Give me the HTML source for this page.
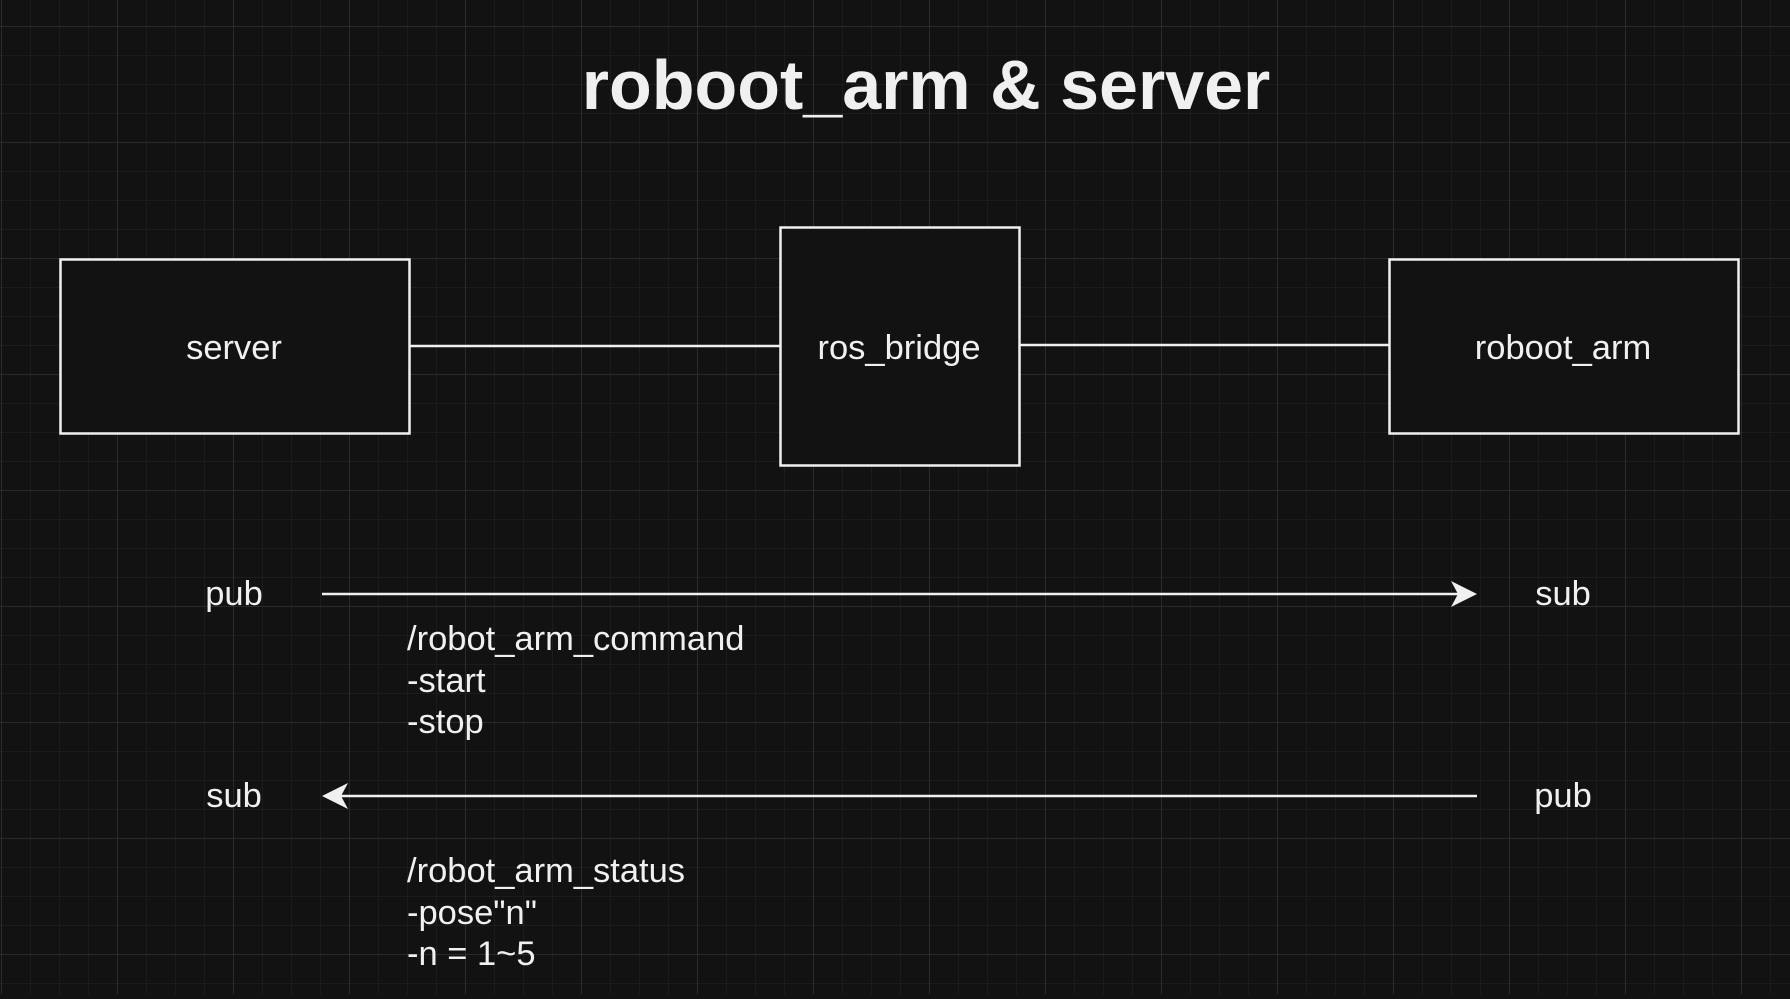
<!DOCTYPE html>
<html><head><style>
html,body{margin:0;padding:0;}
body{width:1790px;height:994px;overflow:hidden;background:#121212;font-family:"Liberation Sans",sans-serif;}
</style></head><body>
<svg width="1790" height="994" xmlns="http://www.w3.org/2000/svg">
<defs>
<pattern id="minor" x="1" y="26" width="29" height="29" patternUnits="userSpaceOnUse">
<path d="M0 0H29M0 0V29" stroke="#202020" stroke-width="1.5" fill="none"/>
</pattern>
<pattern id="major" x="1" y="26" width="116" height="116" patternUnits="userSpaceOnUse">
<path d="M0 0H116M0 0V116" stroke="#3a3a3a" stroke-width="1" fill="none"/>
</pattern>
</defs>
<rect width="1790" height="994" fill="#121212"/>
<rect width="1790" height="994" fill="url(#minor)"/>
<rect width="1790" height="994" fill="url(#major)"/>
<g fill="#f0f0f0" font-family="Liberation Sans, sans-serif">
<text x="926" y="109" font-size="70" font-weight="bold" text-anchor="middle">roboot_arm &amp; server</text>
</g>
<g stroke="#f0f0f0" stroke-width="2.5" fill="#121212">
<line x1="410" y1="346" x2="780" y2="346"/>
<line x1="1019" y1="345" x2="1389" y2="345"/>
<rect x="60.5" y="259.5" width="349" height="174"/>
<rect x="780.5" y="227.5" width="239" height="238"/>
<rect x="1389.5" y="259.5" width="349" height="174"/>
<line x1="322" y1="594" x2="1462" y2="594"/>
<line x1="337" y1="796" x2="1477" y2="796"/>
</g>
<g fill="#f0f0f0">
<path d="M1477 594 L1451 581 L1458 594 L1451 607 Z"/>
<path d="M322 796 L348 783 L341 796 L348 809 Z"/>
</g>
<g fill="#f0f0f0" font-size="34.5" font-family="Liberation Sans, sans-serif">
<text x="234" y="359" text-anchor="middle">server</text>
<text x="899" y="359" text-anchor="middle">ros_bridge</text>
<text x="1563" y="359" text-anchor="middle">roboot_arm</text>
<text x="234" y="605" text-anchor="middle">pub</text>
<text x="1563" y="605" text-anchor="middle">sub</text>
<text x="234" y="807" text-anchor="middle">sub</text>
<text x="1563" y="807" text-anchor="middle">pub</text>
<text x="407" y="650">/robot_arm_command</text>
<text x="407" y="692">-start</text>
<text x="407" y="733">-stop</text>
<text x="407" y="882">/robot_arm_status</text>
<text x="407" y="924">-pose"n"</text>
<text x="407" y="965">-n = 1~5</text>
</g>
</svg>
</body></html>
